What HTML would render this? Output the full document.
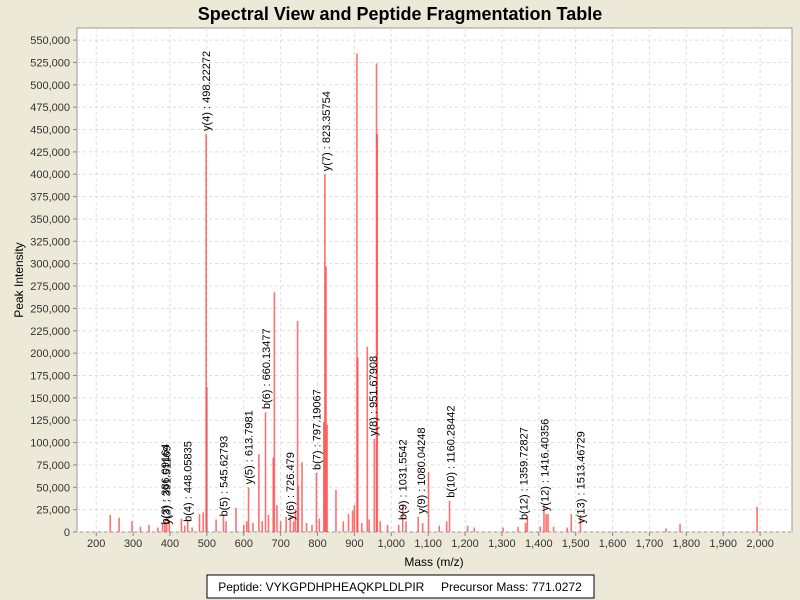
<!DOCTYPE html>
<html><head><meta charset="utf-8"><style>
body{margin:0;background:#ece9d8;}
svg{display:block;font-family:"Liberation Sans",Arial,sans-serif;}
</style></head><body>
<svg id="chart" width="800" height="600">
<rect x="0" y="0" width="800" height="600" fill="#ece9d8"/>
<text x="400" y="20" text-anchor="middle" font-size="18" font-weight="bold">Spectral View and Peptide Fragmentation Table</text>
<rect x="77" y="28" width="715" height="504" fill="#ffffff" stroke="#999"/>
<g id="grid"></g><g id="peaks"></g><g id="labels"></g><g id="axes"></g>
<text x="434" y="566" text-anchor="middle" font-size="12">Mass (m/z)</text>
<text transform="translate(23,280) rotate(-90)" text-anchor="middle" font-size="12">Peak Intensity</text>
<rect x="207" y="575" width="387" height="23" fill="#fff" stroke="#000"/>
<text x="400" y="591" text-anchor="middle" font-size="12" xml:space="preserve">Peptide: VYKGPDHPHEAQKPLDLPIR     Precursor Mass: 771.0272</text>
</svg>
<script>
const xTicks=[200,300,400,500,600,700,800,900,1000,1100,1200,1300,1400,1500,1600,1700,1800,1900,2000];
const yTicks=[0,25000,50000,75000,100000,125000,150000,175000,200000,225000,250000,275000,300000,325000,350000,375000,400000,425000,450000,475000,500000,525000,550000];
const peakMz=[238,262,297,320,343,367,380,386,391,398,431,440,448,460,480,490,498,500,525,545,552,579,600,608,613,625,641,650,659,667,680,683,690,700,715,726,735,740,746,748,758,770,785,797,805,817,820,823,826,850,870,884,895,900,907,909,920,935,940,954,960,962,970,990,1020,1031,1040,1073,1085,1101,1130,1150,1158,1207,1225,1303,1344,1364,1369,1404,1414,1420,1425,1440,1477,1488,1513,1745,1783,1992];
const peakIntensity=[19000,16000,12000,6000,8000,5000,9000,14000,10000,13000,15000,7000,14000,5000,20000,22000,445000,162000,14000,19000,12000,27000,8000,12000,50000,10000,87000,12000,134000,19000,83000,268000,30000,12000,17000,17000,12000,25000,236000,52000,78000,10000,8000,66000,15000,123000,400000,297000,120000,47000,12000,20000,24000,30000,535000,195000,10000,207000,14000,104000,524000,445000,12000,8000,8000,30000,12000,17000,10000,67000,7000,12000,35000,7000,5000,5000,6000,10000,17000,6000,30000,20000,20000,6000,5000,20000,19000,4000,9000,28000];
const labelText=["b(3) : 386.09164","y(3) : 391.51169","b(4) : 448.05835","y(4) : 498.22272","b(5) : 545.62793","y(5) : 613.7981","b(6) : 660.13477","y(6) : 726.479","b(7) : 797.19067","y(7) : 823.35754","y(8) : 951.67908","b(9) : 1031.5542","y(9) : 1080.04248","b(10) : 1160.28442","b(12) : 1359.72827","y(12) : 1416.40356","y(13) : 1513.46729"];
const labelMz=[386,391,448,498,545,613,660,726,797,823,951,1031,1080,1160,1359,1416,1513];
const labelIntensity=[5000,5000,8000,445000,14000,50000,134000,10000,66000,400000,104000,10000,17000,35000,10000,20000,6000];
const NS="http://www.w3.org/2000/svg";
const X=m=>170+(m-400)*0.3688;
const Y=v=>532-v/25000*22.36;
function mk(t,a,p){const e=document.createElementNS(NS,t);for(const k in a)e.setAttribute(k,a[k]);p.appendChild(e);return e;}
const grid=document.getElementById('grid'),axes=document.getElementById('axes'),pk=document.getElementById('peaks'),lb=document.getElementById('labels');
xTicks.forEach(t=>{const x=X(t);
 const g=mk('line',{x1:x,x2:x,y1:28,y2:532,stroke:'#ddd','stroke-dasharray':'3,3'},grid);
 
 
 const tk=mk('line',{x1:x,x2:x,y1:532,y2:536,stroke:'#888'},axes);
 
 
 const tx=mk('text',{x:x,y:547,'text-anchor':'middle','font-size':'11',fill:'#333'},axes);
 tx.textContent=t.toLocaleString('en-US');
 
 
});
yTicks.forEach(t=>{const y=Y(t);
 const g=mk('line',{x1:77,x2:792,y1:y,y2:y,stroke:'#ddd','stroke-dasharray':'3,3'},grid);
 
 
 const tk=mk('line',{x1:73,x2:77,y1:y,y2:y,stroke:'#888'},axes);
 
 
 const tx=mk('text',{x:70,y:y+4,'text-anchor':'end','font-size':'11',fill:'#333'},axes);
 tx.textContent=t.toLocaleString('en-US');
 
 
});
peakMz.forEach((m,i)=>{
 const l=mk('line',{x1:X(m),x2:X(m),y1:532,y2:Y(peakIntensity[i]),stroke:'#ff4040','stroke-opacity':'0.75','stroke-width':'1.6'},pk);
 
 
});
labelMz.forEach((m,i)=>{
 const x=X(m)+4,y=Y(labelIntensity[i])-3;
 const t=mk('text',{transform:'translate('+x+','+y+') rotate(-90)','font-size':'11',fill:'#000'},lb);
 t.textContent=labelText[i];
 
 
});
</script>
</body></html>
